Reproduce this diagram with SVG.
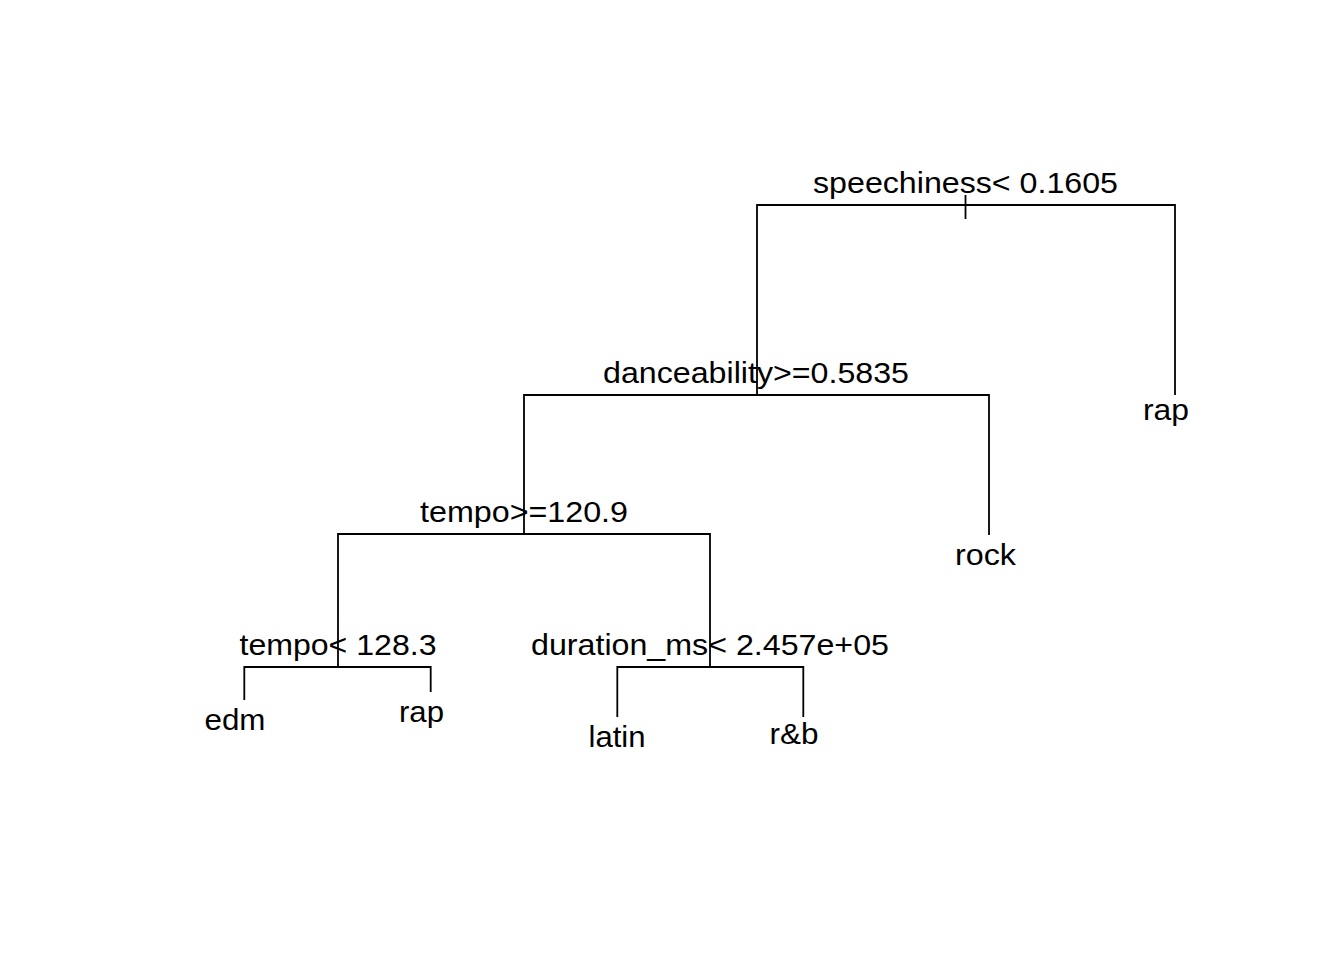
<svg xmlns="http://www.w3.org/2000/svg" width="1344" height="960" viewBox="0 0 1344 960">
<style>
.t{font-family:"Liberation Sans",Arial,sans-serif;font-size:29px;fill:#000;text-anchor:middle}
.c{stroke:#000;stroke-width:1.8;fill:none;stroke-linecap:butt}
</style>
<rect width="1344" height="960" fill="#fff"/>
<g id="connectors">
<path class="c" d="M965.5 195V219"/>
<path class="c" d="M757 395V205H1175V395"/>
<path class="c" d="M524 534V395H989V535"/>
<path class="c" d="M338 667V534H710V667"/>
<path class="c" d="M244.3 700V667H430.7V692"/>
<path class="c" d="M617.3 717V667H803.3V717"/>
</g>
<g id="n1"><text class="t" x="965.5" y="193" textLength="305" lengthAdjust="spacingAndGlyphs">speechiness&lt; 0.1605</text></g>
<g id="n2"><text class="t" x="756" y="383" textLength="306" lengthAdjust="spacingAndGlyphs">danceability&gt;=0.5835</text></g>
<g id="n3"><text class="t" x="524" y="522" textLength="208" lengthAdjust="spacingAndGlyphs">tempo&gt;=120.9</text></g>
<g id="n4"><text class="t" x="338" y="655" textLength="197" lengthAdjust="spacingAndGlyphs">tempo&lt; 128.3</text></g>
<g id="n5"><text class="t" x="710" y="655" textLength="358" lengthAdjust="spacingAndGlyphs">duration_ms&lt; 2.457e+05</text></g>
<g id="leaf-edm"><text class="t" x="235" y="730" textLength="61" lengthAdjust="spacingAndGlyphs">edm</text></g>
<g id="leaf-rap1"><text class="t" x="421.5" y="722" textLength="45" lengthAdjust="spacingAndGlyphs">rap</text></g>
<g id="leaf-latin"><text class="t" x="617" y="747" textLength="57" lengthAdjust="spacingAndGlyphs">latin</text></g>
<g id="leaf-rb"><text class="t" x="794" y="744" textLength="49" lengthAdjust="spacingAndGlyphs">r&amp;b</text></g>
<g id="leaf-rock"><text class="t" x="985.5" y="565" textLength="61" lengthAdjust="spacingAndGlyphs">rock</text></g>
<g id="leaf-rap2"><text class="t" x="1166" y="420" textLength="46" lengthAdjust="spacingAndGlyphs">rap</text></g>
</svg>
